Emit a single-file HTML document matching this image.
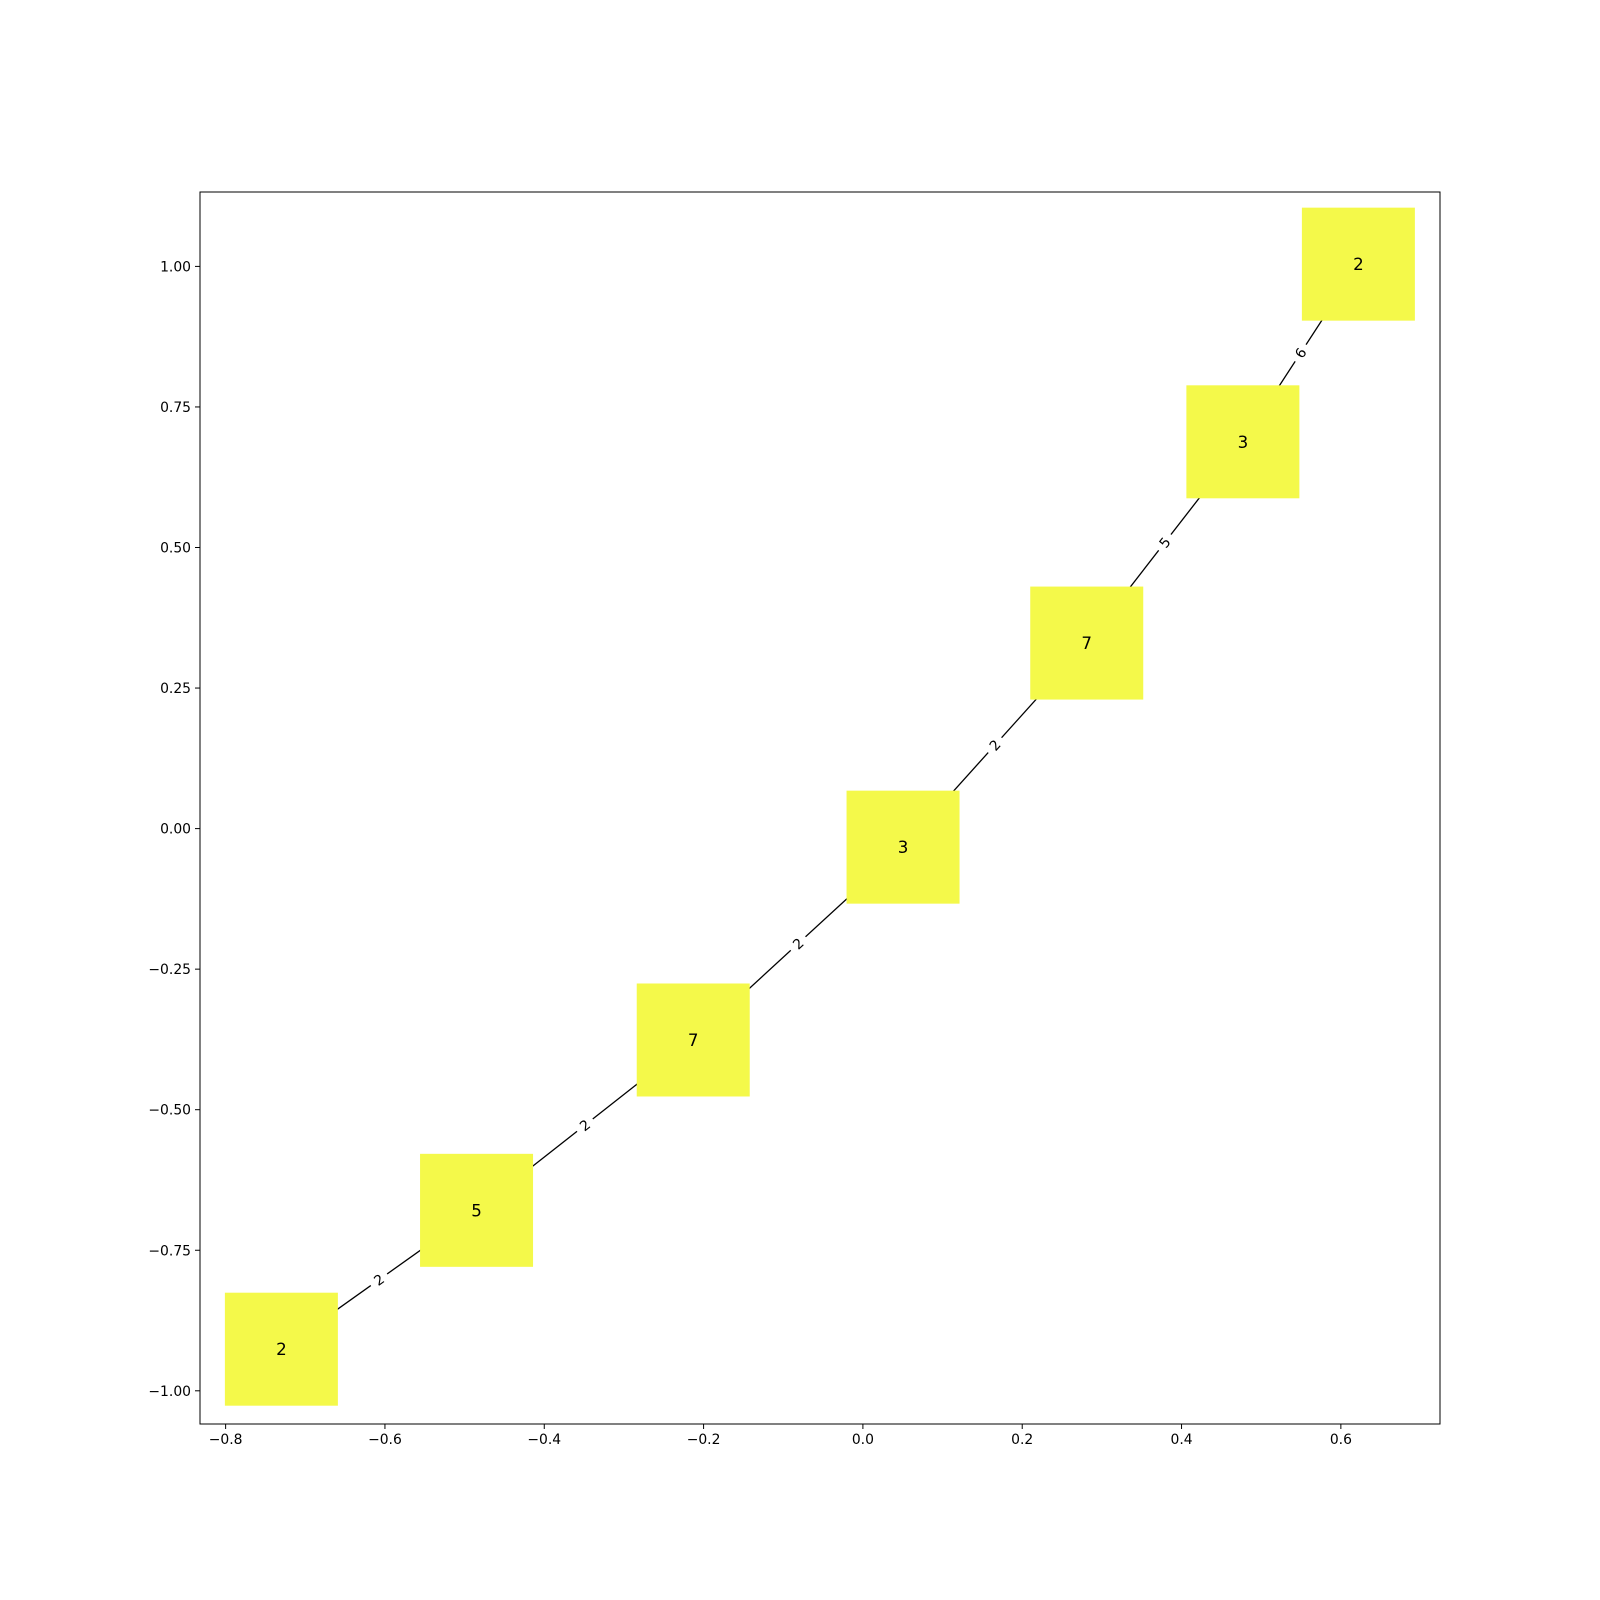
<!DOCTYPE html>
<html><head><meta charset="utf-8"><style>
html,body{margin:0;padding:0;background:#fff;}
svg{display:block;font-family:"DejaVu Sans","Liberation Sans",sans-serif;}
</style></head><body>
<svg id="chart" width="1600" height="1600" viewBox="0 0 1600 1600" xmlns="http://www.w3.org/2000/svg"></svg>
<script>
const nodeX = [-0.730, -0.485, -0.213, 0.0504, 0.281, 0.477, 0.622];
const nodeY = [-0.926, -0.679, -0.376, -0.033, 0.330, 0.688, 1.004];
const nodeLabels = ["2", "5", "7", "3", "7", "3", "2"];
const edgeFrom = [0, 1, 2, 3, 4, 5];
const edgeTo = [1, 2, 3, 4, 5, 6];
const edgeLabels = ["2", "2", "2", "2", "5", "6"];
const xTicks = [-0.8, -0.6, -0.4, -0.2, 0.0, 0.2, 0.4, 0.6];
const xTickLabels = ["\u22120.8", "\u22120.6", "\u22120.4", "\u22120.2", "0.0", "0.2", "0.4", "0.6"];
const yTicks = [-1.0, -0.75, -0.5, -0.25, 0.0, 0.25, 0.5, 0.75, 1.0];
const yTickLabels = ["\u22121.00", "\u22120.75", "\u22120.50", "\u22120.25", "0.00", "0.25", "0.50", "0.75", "1.00"];

const NS = "http://www.w3.org/2000/svg";
const svg = document.getElementById("chart");
const L = 200, R = 1440, T = 192, B = 1424;
const xScale = v => 862.9 + v * 796.6;
const yScale = v => 828.6 - v * 562.2;
function mk(tag, attrs, parent) {
  const e = document.createElementNS(NS, tag);
  for (const k in attrs) e.setAttribute(k, attrs[k]);
  (parent || svg).appendChild(e);
  return e;
}
edgeFrom.forEach((f, i) => {
  const t = edgeTo[i];
  const x1 = xScale(nodeX[f]), y1 = yScale(nodeY[f]), x2 = xScale(nodeX[t]), y2 = yScale(nodeY[t]);
  const ln = mk("line", {x1, y1, x2, y2, stroke: "#000", "stroke-width": 1.3});
  
  
});
nodeX.forEach((v, i) => {
  const cx = xScale(v), cy = yScale(nodeY[i]);
  const r = mk("rect", {x: cx - 56.5, y: cy - 56.5, width: 113, height: 113, fill: "#f4f94a"});
  
  
  const tx = mk("text", {x: cx, y: cy + 6, "text-anchor": "middle", "font-size": 16.7});
  
  
  tx.textContent = nodeLabels[i];
});
edgeFrom.forEach((f, i) => {
  const t = edgeTo[i];
  const x1 = xScale(nodeX[f]), y1 = yScale(nodeY[f]), x2 = xScale(nodeX[t]), y2 = yScale(nodeY[t]);
  const mx = (x1 + x2) / 2, my = (y1 + y2) / 2;
  const ang = Math.atan2(y2 - y1, x2 - x1) * 180 / Math.PI;
  const g = mk("g", {transform: `translate(${mx},${my}) rotate(${ang})`});
  
  
  mk("rect", {x: -10, y: -9, width: 20, height: 18, fill: "#fff"}, g);
  const tx = mk("text", {x: 0, y: 5, "text-anchor": "middle", "font-size": 13.9}, g);
  tx.textContent = edgeLabels[i];
});
const fr = mk("rect", {x: L, y: T, width: R - L, height: B - T, fill: "none", stroke: "#000", "stroke-width": 1});


xTicks.forEach((v, i) => {
  const x = xScale(v);
  const tk = mk("line", {x1: x, y1: B, x2: x, y2: B + 5, stroke: "#000", "stroke-width": 1});
  
  
  const tx = mk("text", {x, y: B + 20, "text-anchor": "middle", "font-size": 13.9});
  
  
  tx.textContent = xTickLabels[i];
});
yTicks.forEach((v, i) => {
  const y = yScale(v);
  const tk = mk("line", {x1: L - 5, y1: y, x2: L, y2: y, stroke: "#000", "stroke-width": 1});
  
  
  const tx = mk("text", {x: L - 9, y: y + 5, "text-anchor": "end", "font-size": 13.9});
  
  
  tx.textContent = yTickLabels[i];
});
</script>
</body></html>
